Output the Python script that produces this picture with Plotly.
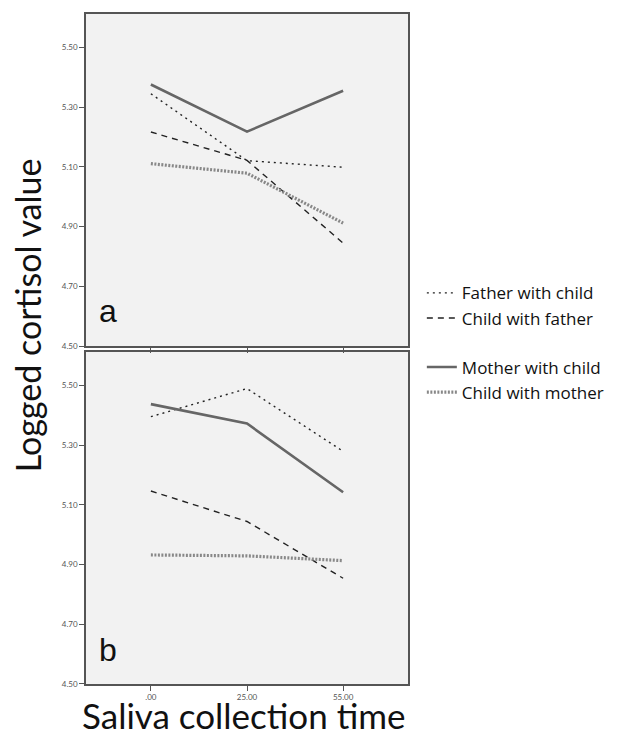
import plotly.graph_objects as go
from plotly.subplots import make_subplots

times = [".00", "25.00", "55.00"]
y_ticks = [4.50, 4.70, 4.90, 5.10, 5.30, 5.50]

# Panel a
a_father_with_child = [5.345, 5.121, 5.099]
a_child_with_father = [5.217, 5.122, 4.845]
a_mother_with_child = [5.376, 5.218, 5.355]
a_child_with_mother = [5.111, 5.079, 4.912]

# Panel b
b_father_with_child = [5.395, 5.489, 5.279]
b_child_with_father = [5.146, 5.044, 4.854]
b_mother_with_child = [5.437, 5.372, 5.142]
b_child_with_mother = [4.932, 4.929, 4.913]

FONT = "Lato"
LEGEND_FONT = "Open Sans"
LETTER_FONT = "Liberation Sans"

fig = make_subplots(rows=2, cols=1, shared_xaxes=False, vertical_spacing=0.0085)

styles = {
    "Father with child": dict(color="#222222", width=1.4, dash="2px,4px"),
    "Child with father": dict(color="#222222", width=1.4, dash="6px,5px"),
    "Mother with child": dict(color="#666666", width=2.6, dash="solid"),
    "Child with mother": dict(color="#888888", width=3.2, dash="2px,1.5px"),
}
groups = {"Father with child": "f", "Child with father": "f",
          "Mother with child": "m", "Child with mother": "m"}

panels = [
    (1, {"Father with child": a_father_with_child, "Child with father": a_child_with_father,
         "Mother with child": a_mother_with_child, "Child with mother": a_child_with_mother}),
    (2, {"Father with child": b_father_with_child, "Child with father": b_child_with_father,
         "Mother with child": b_mother_with_child, "Child with mother": b_child_with_mother}),
]

for row, data in panels:
    for name in ["Father with child", "Child with father", "Mother with child", "Child with mother"]:
        fig.add_trace(go.Scatter(
            x=times, y=data[name], mode="lines", name=name,
            line=styles[name], legendgroup=groups[name],
            showlegend=(row == 1),
        ), row=row, col=1)

axis_common = dict(
    showline=True, mirror=True, linecolor="#555555", linewidth=1.5,
    showgrid=False, zeroline=False, ticks="outside", ticklen=5,
    tickcolor="#555555", tickfont=dict(family=FONT, size=8, color="#555555"),
)
for r in (1, 2):
    fig.update_xaxes(type="category", range=[-0.675, 2.675], showticklabels=(r == 2),
                     **axis_common, row=r, col=1)
    fig.update_yaxes(range=[4.50, 5.612], tickvals=y_ticks,
                     ticktext=[f"{v:.2f}" for v in y_ticks], **axis_common, row=r, col=1)

fig.update_layout(
    width=622, height=726,
    margin=dict(l=78, r=222, t=4, b=50),
    paper_bgcolor="white", plot_bgcolor="#f2f2f2",
    font=dict(family=FONT, color="#111111"),
    legend=dict(x=1.043, y=0.610, xanchor="left", yanchor="top",
                font=dict(family=LEGEND_FONT, size=17, color="#111111"),
                tracegroupgap=24, traceorder="grouped", bgcolor="rgba(0,0,0,0)",
                itemwidth=30),
    annotations=[
        dict(text="Logged cortisol value", x=-0.183, y=0.5506, xref="paper", yref="paper",
             xanchor="center", yanchor="middle",
             textangle=-90, showarrow=False, font=dict(family=FONT, size=34, color="#111111")),
        dict(text="Saliva collection time", x=0.4907, y=-0.046, xref="paper", yref="paper",
             xanchor="center", yanchor="middle", showarrow=False,
             font=dict(family=FONT, size=35, color="#111111")),
        dict(text="a", x=0.0683, y=0.5565, xref="paper", yref="paper", xanchor="center",
             yanchor="middle", showarrow=False, font=dict(family=LETTER_FONT, size=32, color="#111111")),
        dict(text="b", x=0.0683, y=0.0506, xref="paper", yref="paper", xanchor="center",
             yanchor="middle", showarrow=False, font=dict(family=LETTER_FONT, size=32, color="#111111")),
    ],
)

fig.write_html("out.html")
